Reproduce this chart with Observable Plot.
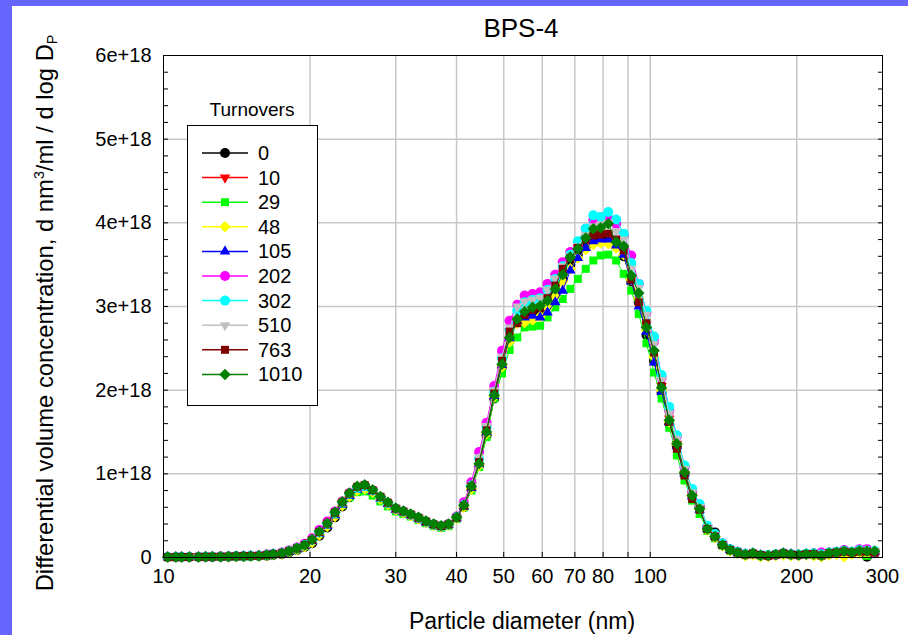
<!DOCTYPE html>
<html>
<head>
<meta charset="utf-8">
<script src="https://cdn.jsdelivr.net/npm/d3@7"></script>
<script src="https://cdn.jsdelivr.net/npm/@observablehq/plot@0.6"></script>
<style>
  html, body { margin: 0; padding: 0; }
  body { width: 908px; height: 635px; overflow: hidden; background: #6666ff; position: relative;
         font-family: "Liberation Sans", Arial, Helvetica, sans-serif; color: #000; }
  #panel { position: absolute; left: 12px; top: 6px; width: 896px; height: 629px; background: #fff; }
  #chart { position: absolute; left: 0; top: 0; }
  .abs { position: absolute; white-space: nowrap; }
</style>
</head>
<body>
<div id="panel"></div>
<div id="chart"></div>
<div class="abs" id="title" style="left:521px; top:28px; transform:translate(-50%,-50%); font-size:26px;">BPS-4</div>
<div class="abs" id="xlabel" style="left:522px; top:621px; transform:translate(-50%,-50%); font-size:23px;">Particle diameter (nm)</div>
<div class="abs" id="ylabel" style="left:45px; top:313px; transform:translate(-50%,-50%) rotate(-90deg); font-size:23.8px;">Differential volume concentration, d nm<sup style="font-size:0.6em; vertical-align:0.6em; line-height:0">3</sup>/ml / d log D<sub style="font-size:0.6em; vertical-align:-0.3em; line-height:0">P</sub></div>
<div class="abs" id="legtitle" style="left:252px; top:110px; transform:translate(-50%,-50%); font-size:19px;">Turnovers</div>
<div class="abs" id="legend" style="left:187px; top:125px; width:129px; height:279px; border:1px solid #000; background:#fff;"></div>
<script>
// ---------------- data (values in units of 1e18) ----------------
const diameters = [10.2,10.6,10.9,11.3,11.8,12.2,12.6,13.1,13.6,14.1,
  14.6,15.1,15.7,16.3,16.8,17.5,18.1,18.8,19.5,20.2,
  20.9,21.7,22.5,23.3,24.1,25.0,25.9,26.9,27.9,28.9,
  30.0,31.1,32.2,33.4,34.6,35.9,37.2,38.5,40.0,41.4,
  42.9,44.5,46.1,47.8,49.6,51.4,53.3,55.2,57.3,59.4,
  61.5,63.8,66.1,68.5,71.0,73.7,76.4,79.1,82.0,85.1,
  88.2,91.4,94.7,98.2,101.8,105.5,109.4,113.4,117.6,121.9,
  126.3,131.0,135.8,140.7,145.9,151.2,156.8,162.5,168.5,174.7,
  181.1,187.7,194.6,201.7,209.1,216.7,224.7,232.9,241.4,250.3,
  259.5,269.0,278.8,289.0];

const seriesNames = ["0","10","29","48","105","202","302","510","763","1010"];
const seriesColors = ["#000000","#ff0000","#00ff00","#ffff00","#0000ff","#ff00ff","#00ffff","#c0c0c0","#800000","#008000"];
const seriesSymbols = ["circle","triDown","square","diamond","triUp","circle","circle","triDown","square","diamond"];

const s0 = [0.004,0.004,0.005,0.005,0.006,0.006,0.007,0.008,0.009,0.011,0.013,0.015,
  0.017,0.022,0.03,0.04,0.06,0.09,0.125,
  0.17,0.26,0.36,0.48,0.61,0.72,0.80,0.82,0.78,0.71,0.64,0.575,0.54,0.505,0.465,0.42,0.39,0.37,0.39,0.47,
  0.60,0.82,1.10,1.46,1.90,2.28,2.60,
  2.82,2.88,2.92,2.95,3.03,3.15,3.32,
  3.50,3.62,3.72,3.78,3.80,3.82,3.75,3.60,3.30,3.05,
  2.66,2.35,1.97,1.60,1.33,1.00,0.74,0.60,
  0.36,0.30,0.16,0.09,0.05,0.03,0.04,0.02,0.02,0.03,0.04,0.03,0.03,0.04,0.03,0.02,0.04,0.05,0.06,0.05,0.07,0.01,0.05];
const s10 = [0.005,0.005,0.006,0.006,0.007,0.008,0.009,0.010,0.011,0.013,0.015,0.018,
  0.02,0.028,0.038,0.05,0.072,0.105,0.145,
  0.21,0.30,0.40,0.53,0.655,0.76,0.83,0.85,0.80,0.72,0.65,0.585,0.55,0.515,0.475,0.43,0.395,0.375,0.395,0.475,
  0.62,0.86,1.16,1.55,1.98,2.36,2.70,
  2.85,2.92,2.96,2.99,3.10,3.25,3.52,
  3.60,3.70,3.82,3.86,3.87,3.86,3.78,3.66,3.33,3.08,
  2.78,2.45,2.05,1.66,1.36,1.05,0.76,0.59,
  0.35,0.26,0.16,0.09,0.06,0.04,0.05,0.03,0.02,0.035,0.05,0.04,0.03,0.04,0.04,0.03,0.05,0.06,0.07,0.06,0.08,0.07,0.07];
const s29 = [0.004,0.004,0.005,0.005,0.006,0.007,0.008,0.009,0.010,0.012,0.014,0.016,
  0.018,0.025,0.035,0.045,0.065,0.095,0.135,
  0.20,0.29,0.385,0.51,0.625,0.72,0.78,0.79,0.74,0.67,0.61,0.55,0.52,0.49,0.45,0.41,0.375,0.355,0.375,0.46,
  0.60,0.80,1.08,1.44,1.90,2.20,2.48,
  2.63,2.75,2.76,2.77,2.87,2.99,3.09,
  3.21,3.33,3.45,3.55,3.61,3.62,3.55,3.39,3.19,2.91,
  2.56,2.21,1.90,1.55,1.22,0.92,0.68,0.52,
  0.32,0.23,0.14,0.08,0.05,0.03,0.04,0.02,0.02,0.03,0.04,0.03,0.03,0.035,0.035,0.02,0.045,0.05,0.07,0.06,0.07,0.02,0.06];
const s48 = [0.004,0.004,0.005,0.005,0.006,0.007,0.008,0.009,0.010,0.012,0.014,0.016,
  0.018,0.024,0.033,0.043,0.063,0.095,0.13,
  0.18,0.27,0.37,0.49,0.62,0.73,0.80,0.82,0.78,0.70,0.635,0.57,0.535,0.50,0.46,0.42,0.385,0.365,0.385,0.465,
  0.60,0.82,1.10,1.48,1.92,2.28,2.58,
  2.80,2.81,2.84,2.88,2.99,3.12,3.30,
  3.45,3.58,3.68,3.74,3.76,3.75,3.70,3.62,3.32,3.10,
  2.72,2.40,2.00,1.62,1.35,1.02,0.74,0.58,
  0.33,0.24,0.14,0.08,0.05,0.02,0.03,0.01,0.01,0.02,0.03,0.02,0.02,0.03,0.02,0.01,0.03,0.04,0.01,0.04,0.05,0.05,0.06];
const s105 = [0.004,0.005,0.005,0.006,0.006,0.007,0.008,0.009,0.011,0.012,0.014,0.017,
  0.019,0.026,0.035,0.046,0.067,0.10,0.14,
  0.195,0.285,0.38,0.505,0.63,0.735,0.81,0.83,0.79,0.705,0.64,0.57,0.54,0.505,0.465,0.42,0.39,0.37,0.39,0.47,
  0.61,0.83,1.12,1.50,1.93,2.30,2.62,
  2.83,2.87,2.89,2.87,2.93,3.05,3.19,
  3.43,3.58,3.70,3.78,3.80,3.80,3.73,3.62,3.30,3.00,
  2.70,2.33,1.98,1.62,1.33,1.00,0.73,0.57,
  0.34,0.25,0.15,0.09,0.06,0.04,0.05,0.03,0.02,0.03,0.05,0.04,0.03,0.04,0.04,0.03,0.05,0.05,0.07,0.06,0.08,0.07,0.07];
const s202 = [0.006,0.006,0.007,0.007,0.008,0.009,0.010,0.011,0.013,0.015,0.017,0.02,
  0.025,0.035,0.045,0.06,0.085,0.12,0.165,
  0.23,0.33,0.43,0.55,0.67,0.77,0.84,0.86,0.80,0.72,0.65,0.58,0.55,0.51,0.47,0.43,0.395,0.375,0.40,0.49,
  0.66,0.90,1.26,1.61,2.05,2.47,2.83,
  3.02,3.13,3.15,3.17,3.27,3.38,3.53,
  3.65,3.75,3.93,4.03,4.07,4.05,3.99,3.85,3.61,3.27,
  2.93,2.58,2.15,1.75,1.45,1.08,0.80,0.62,
  0.36,0.27,0.17,0.10,0.07,0.04,0.045,0.03,0.02,0.03,0.05,0.04,0.03,0.04,0.05,0.06,0.06,0.07,0.09,0.07,0.10,0.10,0.06];
const s302 = [0.005,0.005,0.006,0.006,0.007,0.008,0.009,0.010,0.012,0.014,0.016,0.019,
  0.022,0.031,0.041,0.052,0.076,0.11,0.15,
  0.21,0.30,0.40,0.53,0.655,0.76,0.83,0.85,0.80,0.72,0.65,0.585,0.55,0.515,0.475,0.43,0.395,0.375,0.395,0.48,
  0.63,0.86,1.18,1.55,1.98,2.38,2.72,
  2.95,3.05,3.08,3.10,3.20,3.33,3.48,
  3.62,3.78,3.93,4.09,4.07,4.13,4.04,3.87,3.52,3.27,
  2.95,2.64,2.18,1.80,1.46,1.10,0.82,0.64,
  0.38,0.28,0.17,0.10,0.07,0.045,0.05,0.03,0.03,0.04,0.05,0.04,0.035,0.045,0.05,0.04,0.06,0.07,0.08,0.07,0.09,0.08,0.08];
const s510 = [0.005,0.005,0.006,0.006,0.007,0.008,0.009,0.010,0.012,0.014,0.016,0.018,
  0.021,0.03,0.04,0.051,0.075,0.11,0.15,
  0.21,0.305,0.405,0.535,0.66,0.765,0.84,0.86,0.80,0.725,0.655,0.585,0.55,0.515,0.475,0.43,0.395,0.375,0.395,0.475,
  0.63,0.86,1.20,1.57,2.00,2.40,2.75,
  3.00,3.06,3.08,3.10,3.20,3.33,3.48,
  3.60,3.72,3.85,3.96,3.98,4.00,3.90,3.80,3.45,3.22,
  2.90,2.55,2.12,1.72,1.42,1.06,0.78,0.60,
  0.36,0.27,0.16,0.10,0.06,0.04,0.05,0.03,0.025,0.035,0.05,0.04,0.03,0.04,0.045,0.03,0.05,0.06,0.08,0.06,0.08,0.08,0.08];
const s763 = [0.005,0.005,0.006,0.006,0.007,0.008,0.009,0.010,0.012,0.014,0.016,0.018,
  0.02,0.029,0.039,0.05,0.074,0.108,0.148,
  0.21,0.305,0.405,0.535,0.66,0.765,0.845,0.865,0.805,0.725,0.655,0.585,0.55,0.515,0.475,0.43,0.395,0.375,0.395,0.475,
  0.62,0.85,1.14,1.52,1.96,2.35,2.70,
  2.80,2.90,2.96,2.99,3.10,3.25,3.45,
  3.58,3.70,3.80,3.85,3.86,3.87,3.80,3.67,3.32,3.05,
  2.80,2.45,2.05,1.62,1.30,0.98,0.70,0.57,
  0.34,0.25,0.15,0.09,0.06,0.035,0.05,0.03,0.02,0.035,0.05,0.035,0.03,0.04,0.04,0.025,0.05,0.06,0.07,0.06,0.07,0.07,0.06];
const s1010 = [0.005,0.005,0.006,0.006,0.007,0.008,0.009,0.010,0.012,0.014,0.016,0.018,
  0.020,0.030,0.040,0.050,0.075,0.110,0.150,
  0.215,0.310,0.410,0.540,0.665,0.770,0.850,0.870,0.810,0.730,0.660,0.590,0.555,0.520,0.480,0.435,0.400,0.380,0.400,0.480,
  0.625,0.85,1.12,1.50,1.94,2.31,2.63,
  2.85,2.94,2.99,3.01,3.07,3.21,3.38,
  3.59,3.69,3.82,3.93,3.94,3.99,3.77,3.72,3.37,3.16,
  2.75,2.47,2.03,1.64,1.36,1.02,0.74,0.58,
  0.34,0.25,0.15,0.09,0.06,0.035,0.05,0.025,0.025,0.036,0.05,0.036,0.03,0.04,0.04,0.025,0.05,0.06,0.075,0.06,0.08,0.075,0.075];

const seriesValues = [s0, s10, s29, s48, s105, s202, s302, s510, s763, s1010];

const xTicks = [10,20,30,40,50,60,70,80,90,100,200,300];
const xGrid = [20,30,40,50,60,70,80,90,100,200];
const yMajor = [0,1,2,3,4,5,6];
const yGrid = [1,2,3,4,5];
const yMinor = [0,0.2,0.4,0.6,0.8,1,1.2,1.4,1.6,1.8,2,2.2,2.4,2.6,2.8,3,3.2,3.4,3.6,3.8,4,4.2,4.4,4.6,4.8,5,5.2,5.4,5.6,5.8,6];

// ---------------- symbols ----------------
const SYM = {
  circle: d3.symbolCircle,
  square: d3.symbolSquare,
  triUp: { draw(ctx, size) { const a = Math.sqrt(4 * size / Math.sqrt(3)), h = a * Math.sqrt(3) / 2;
    ctx.moveTo(0, -2 * h / 3); ctx.lineTo(a / 2, h / 3); ctx.lineTo(-a / 2, h / 3); ctx.closePath(); } },
  triDown: { draw(ctx, size) { const a = Math.sqrt(4 * size / Math.sqrt(3)), h = a * Math.sqrt(3) / 2;
    ctx.moveTo(0, 2 * h / 3); ctx.lineTo(-a / 2, -h / 3); ctx.lineTo(a / 2, -h / 3); ctx.closePath(); } },
  diamond: { draw(ctx, size) { const d = Math.sqrt(size / 2);
    ctx.moveTo(0, -d); ctx.lineTo(d, 0); ctx.lineTo(0, d); ctx.lineTo(-d, 0); ctx.closePath(); } }
};
const SYM_R = { circle: 5, square: 4.5, triUp: 3.9, triDown: 3.9, diamond: 4.6 };

// ---------------- chart ----------------
const marks = [
  Plot.gridX(xGrid, { stroke: "#c8c8c8", strokeOpacity: 1, strokeWidth: 1.5 }),
  Plot.gridY(yGrid, { stroke: "#c8c8c8", strokeOpacity: 1, strokeWidth: 1.5 })
];
seriesNames.forEach((name, k) => {
  const rows = diameters.map((d, i) => ({ d, v: seriesValues[k][i], s: name }));
  marks.push(Plot.line(rows, { x: "d", y: "v", stroke: seriesColors[k], strokeWidth: 1 }));
  marks.push(Plot.dot(rows, { x: "d", y: "v", fill: seriesColors[k], stroke: "none",
    symbol: SYM[seriesSymbols[k]], r: SYM_R[seriesSymbols[k]] }));
});
marks.push(
  Plot.frame({ stroke: "#000", strokeWidth: 1 }),
  Plot.axisY({ anchor: "left", ticks: yMinor, tickSize: 5, dx: 5, fill: "none", tickFormat: () => "", label: null }),
  Plot.axisY({ anchor: "right", ticks: yMinor, tickSize: 5, dx: -5, fill: "none", tickFormat: () => "", label: null }),
  Plot.axisX({ anchor: "bottom", ticks: xGrid, tickSize: 5, dy: -5, fill: "none", tickFormat: () => "", label: null }),
  Plot.axisY({ anchor: "left", ticks: yMajor, tickSize: 0, tickPadding: 12, fontSize: 20,
    tickFormat: d => d === 0 ? "0" : d + "e+18", label: null }),
  Plot.axisX({ anchor: "bottom", ticks: xTicks, tickSize: 0, tickPadding: 11, fontSize: 20,
    tickFormat: d => String(d), label: null })
);

const chart = Plot.plot({
  width: 908, height: 635,
  marginLeft: 163, marginRight: 26, marginTop: 55, marginBottom: 78,
  style: { background: "transparent", color: "#000", fontFamily: '"Liberation Sans", Arial, sans-serif', fontSize: "20px" },
  x: { type: "log", domain: [10, 300], label: null },
  y: { domain: [0, 6], label: null },
  marks
});
document.getElementById("chart").appendChild(chart);

// ---------------- legend ----------------
const leg = d3.select("#legend").append("svg").attr("width", 129).attr("height", 279)
  .style("position", "absolute").style("left", 0).style("top", 0);
seriesNames.forEach((name, k) => {
  const y = 27 + 24.6 * k;
  leg.append("line").attr("x1", 14).attr("x2", 60).attr("y1", y).attr("y2", y)
    .attr("stroke", seriesColors[k]).attr("stroke-width", 1.5);
  const r = SYM_R[seriesSymbols[k]];
  leg.append("path").attr("transform", `translate(37,${y})`)
    .attr("d", d3.symbol(SYM[seriesSymbols[k]], Math.PI * r * r)())
    .attr("fill", seriesColors[k]);
  leg.append("text").attr("x", 70).attr("y", y).attr("dy", "0.35em")
    .attr("font-size", 20).attr("font-family", '"Liberation Sans", Arial, sans-serif').text(name);
});
</script>
</body>
</html>
